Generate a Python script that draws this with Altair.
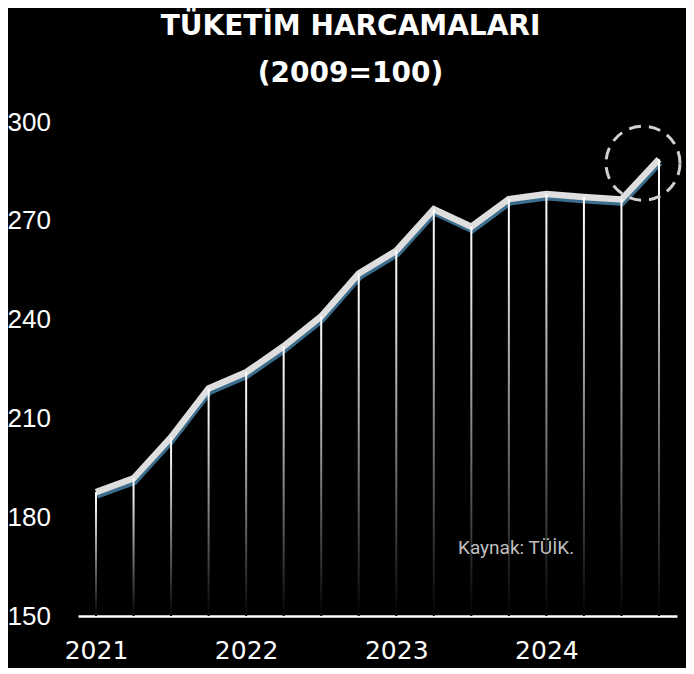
import altair as alt
import pandas as pd

quarters = ["2021-Q1", "2021-Q2", "2021-Q3", "2021-Q4",
            "2022-Q1", "2022-Q2", "2022-Q3", "2022-Q4",
            "2023-Q1", "2023-Q2", "2023-Q3", "2023-Q4",
            "2024-Q1", "2024-Q2", "2024-Q3", "2024-Q4"]
values = [187.6, 191.8, 204.3, 219.1,
          224.0, 231.9, 241.0, 254.0,
          260.9, 273.5, 268.2, 276.6,
          278.1, 277.2, 276.5, 288.7]
year_labels = ["2021", "2022", "2023", "2024"]
y_ticks = [150, 180, 210, 240, 270, 300]
title_lines = ["TÜKETİM HARCAMALARI", "(2009=100)"]
source_note = "Kaynak: TÜİK."

df = pd.DataFrame({"t": list(range(len(quarters))), "q": quarters, "v": values})
last = df.iloc[[-1]]

label_expr = "[" + ",".join("'" + s + "'" for s in year_labels) + "][floor(datum.value/4)]"

x_enc = alt.X("t:Q",
              scale=alt.Scale(domain=[-0.48, len(quarters) - 1 + 0.48], nice=False, zero=False,
                              padding=0),
              axis=alt.Axis(values=[0, 4, 8, 12], labelExpr=label_expr, title=None,
                            ticks=False, grid=False, domain=True, domainColor="white",
                            domainWidth=2.5, labelColor="white", labelFont="DejaVu Sans",
                            labelFontSize=25, labelPadding=22))
y_enc = alt.Y("v:Q",
              scale=alt.Scale(domain=[150, 300], nice=False, zero=False, padding=0),
              axis=alt.Axis(values=y_ticks, title=None, ticks=False, grid=False, domain=False,
                            labelAlign="left", labelPadding=71, labelBaseline="middle",
                            labelColor="white", labelFont="Liberation Sans", labelFontSize=26))

shadow = alt.Chart(df).mark_line(color="#3d6d8c", strokeWidth=6, yOffset=3.5, xOffset=1,
                                 strokeJoin="miter").encode(x=x_enc, y=y_enc)
main = alt.Chart(df).mark_line(color="#dedede", strokeWidth=6.5, strokeJoin="miter").encode(
    x="t:Q", y="v:Q")

grad = alt.LinearGradient(gradient="linear",
                          stops=[alt.GradientStop(color="#ffffff", offset=0),
                                 alt.GradientStop(color="#e8e8e8", offset=0.15),
                                 alt.GradientStop(color="#000000", offset=1)],
                          x1=0, x2=0, y1=0, y2=1)
drops = alt.Chart(df).mark_bar(size=2, color=grad).encode(
    x="t:Q", y="v:Q", y2=alt.datum(150))

circle = alt.Chart(last).mark_point(shape="circle", size=5476, filled=False, color="#d0d0d0",
                                    strokeWidth=3, strokeDash=[12, 8], xOffset=-16,
                                    yOffset=4, opacity=1).encode(x="t:Q", y="v:Q")

note = alt.Chart(pd.DataFrame({"s": [source_note]})).mark_text(
    align="left", baseline="alphabetic", font="Roboto", fontSize=19, color="#bfbfbf").encode(
    x=alt.value(380), y=alt.value(432), text="s:N")

chart = alt.layer(shadow, main, drops, circle, note).properties(
    width=599, height=494,
    autosize=alt.AutoSizeParams(type="none"),
    padding={"left": 70, "top": 114, "right": 9, "bottom": 52},
    title=alt.Title(title_lines, color="white", font="DejaVu Sans", fontSize=28,
                    fontWeight="bold", lineHeight=47, dx=-27, offset=21, anchor="middle"),
).configure(background="black").configure_view(strokeWidth=0)

chart.save("out.html", embed_options={"renderer": "svg", "actions": False})
